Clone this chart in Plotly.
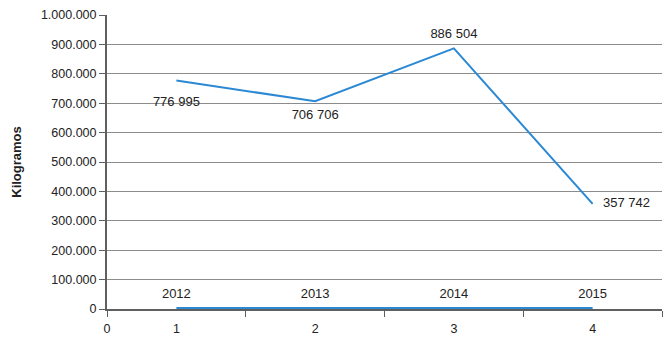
import plotly.graph_objects as go

categories = [1, 2, 3, 4]
kilogramos = [776995, 706706, 886504, 357742]
anios = [2012, 2013, 2014, 2015]
kg_positions = ["bottom center", "bottom center", "top center", "middle right"]
x_tick_vals = [0.5, 1, 2, 3, 4]
x_tick_text = ["0", "1", "2", "3", "4"]
y_ticks = list(range(0, 1000001, 100000))

blue = "#2B88D3"
axis_col = "#5f5f5f"
font = "Liberation Sans, Arial, Helvetica, sans-serif"
clear = "rgba(0,0,0,0)"

fig = go.Figure()
fig.add_trace(go.Scatter(
    x=categories, y=kilogramos, mode="lines+markers+text",
    line=dict(color=blue, width=2),
    marker=dict(size=[23, 12, 9, 15], color=clear, line=dict(width=0, color=clear)),
    text=[f"{v:,}".replace(",", " ") for v in kilogramos],
    textposition=kg_positions,
    textfont=dict(size=13, color="#222", family=font),
    cliponaxis=False, showlegend=False, hoverinfo="x+y",
))
fig.add_trace(go.Scatter(
    x=categories, y=anios, mode="lines+markers+text",
    line=dict(color=blue, width=3),
    marker=dict(size=10, color=clear, line=dict(width=0, color=clear)),
    text=[str(v) for v in anios],
    textposition="top center",
    textfont=dict(size=13, color="#222", family=font),
    cliponaxis=False, showlegend=False, hoverinfo="x+y",
))

fig.update_layout(
    width=663, height=336,
    margin=dict(l=99, r=9, t=7, b=35),
    paper_bgcolor="white", plot_bgcolor="white",
    separators=",.",
    font=dict(family=font, size=12.5, color="#222"),
    xaxis=dict(
        range=[0.5, 4.5], tickvals=x_tick_vals, ticktext=x_tick_text,
        ticks="", showgrid=False, zeroline=False, automargin=False,
        showline=True, linecolor=axis_col, linewidth=2,
        minor=dict(tickvals=[0.5, 1.5, 2.5, 3.5, 4.5], ticks="outside",
                   ticklen=6, tickcolor=axis_col, tickwidth=1, showgrid=False),
        ticklabelstandoff=7,
        tickfont=dict(size=12.5, color="#222"),
    ),
    yaxis=dict(
        range=[0, 1000000], tickvals=y_ticks, tickformat=",d",
        ticks="outside", ticklen=6, tickcolor=axis_col, automargin=False,
        showgrid=True, gridcolor="#8c8c8c", gridwidth=1,
        zeroline=False, showline=True, linecolor=axis_col, linewidth=2,
        tickfont=dict(size=12.5, color="#222"),
        title=dict(text="<b>Kilogramos</b>", font=dict(size=13, color="#222"), standoff=16),
    ),
)

fig.write_html("out.html")
